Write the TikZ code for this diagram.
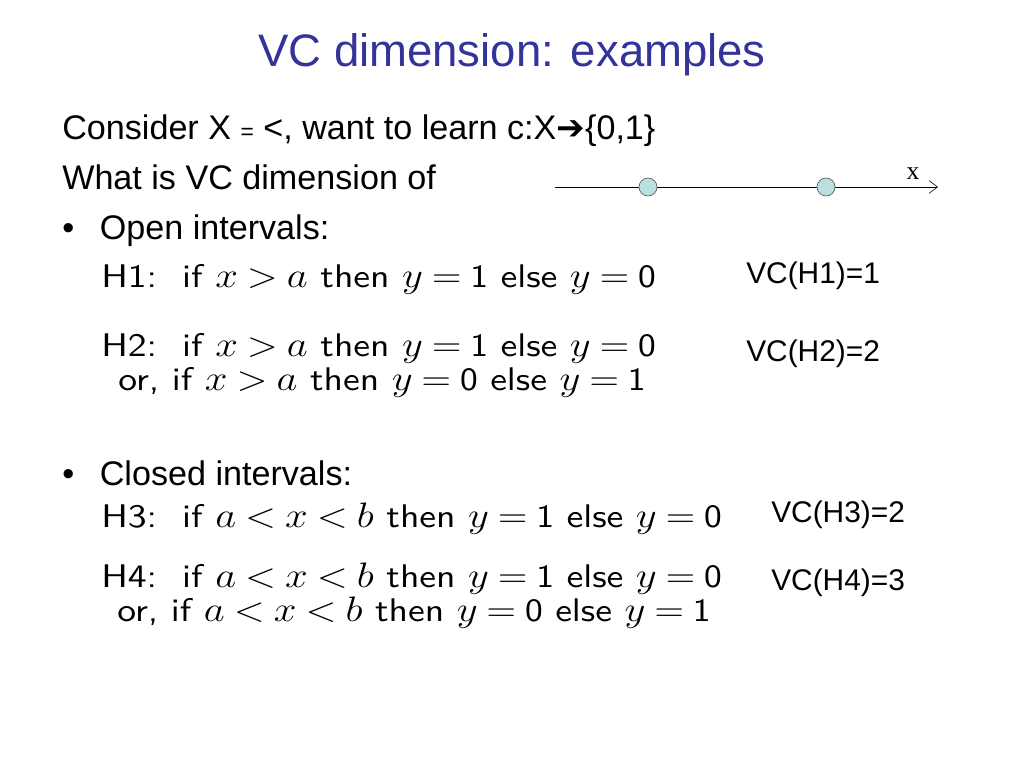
\documentclass[tikz,border=0pt]{standalone}
\usepackage{fontspec}
\setmainfont{Liberation Sans}
\newfontfamily\arrowfont{DejaVu Sans}
\newfontfamily\seriffont{Liberation Serif}
\newfontfamily\rulefont{lmsans10-regular.otf}
\usetikzlibrary{arrows.meta}
\definecolor{titleblue}{HTML}{333399}
\definecolor{dotfill}{HTML}{B9E0DF}
\newcommand{\wideline}[1]{\scalebox{1.15}[1]{\thickmuskip=4mu plus 2mu #1}}

\begin{document}
\begin{tikzpicture}[x=0.703125pt,y=-0.703125pt]
\tikzstyle{title}=[anchor=base,inner sep=0pt,text=titleblue,font=\fontsize{32}{38}\selectfont]
\tikzstyle{bodytext}=[anchor=base west,inner sep=0pt,font=\fontsize{24}{29}\selectfont]
\tikzstyle{rule}=[anchor=base west,inner sep=0pt,font=\rulefont\fontsize{23}{27}\selectfont]
\tikzstyle{vc}=[anchor=base west,inner sep=0pt,font=\fontsize{21}{25}\selectfont]
\tikzstyle{point}=[circle,draw=black!70,fill=dotfill,inner sep=0pt,minimum size=12.7pt]
\useasboundingbox (0,0) rectangle (1024,768);
\node [title] (title) at (512,67) {VC dimension: examples};
\node [bodytext] (consider) at (62,140) {Consider X {\fontsize{16}{16}\selectfont =} <, want to learn c:X{\arrowfont\bfseries ➔}\{0,1\}};
\node [bodytext] (question) at (62,190) {What is VC dimension of};
% the line with two points
\coordinate (axisstart) at (555,187);
\coordinate (axisend) at (938,187);
\draw [-{Straight Barb[length=6pt,width=9pt]}] (axisstart) -- (axisend);
\node [point] (p1) at (648,187) {};
\node [point] (p2) at (826,187) {};
\node [anchor=base,inner sep=0pt,font=\seriffont\fontsize{18}{20}\selectfont] (xlabel) at (913,180) {x};
% open intervals
\node [bodytext] (open) at (62,240) {•\hspace{0.75em}Open intervals:};
\node [rule] (h1) at (101,287) {\wideline{H1:\ \ if $x>a$ then $y=\mathsf{1}$ else $y=\mathsf{0}$}};
\node [vc] (vc1) at (746,283) {VC(H1)=1};
\node [rule] (h2) at (101,356) {\wideline{H2:\ \ if $x>a$ then $y=\mathsf{1}$ else $y=\mathsf{0}$}};
\node [rule] (h2b) at (118,390) {\wideline{or,\ if $x>a$ then $y=\mathsf{0}$ else $y=\mathsf{1}$}};
\node [vc] (vc2) at (746,361) {VC(H2)=2};
% closed intervals
\node [bodytext] (closed) at (62,485) {•\hspace{0.75em}Closed intervals:};
\node [rule] (h3) at (101,527) {\wideline{H3:\ \ if $a<x<b$ then $y=\mathsf{1}$ else $y=\mathsf{0}$}};
\node [vc] (vc3) at (771,522) {VC(H3)=2};
\node [rule] (h4) at (101,587) {\wideline{H4:\ \ if $a<x<b$ then $y=\mathsf{1}$ else $y=\mathsf{0}$}};
\node [rule] (h4b) at (117,621) {\wideline{or,\ if $a<x<b$ then $y=\mathsf{0}$ else $y=\mathsf{1}$}};
\node [vc] (vc4) at (771,590) {VC(H4)=3};
\end{tikzpicture}
\end{document}
